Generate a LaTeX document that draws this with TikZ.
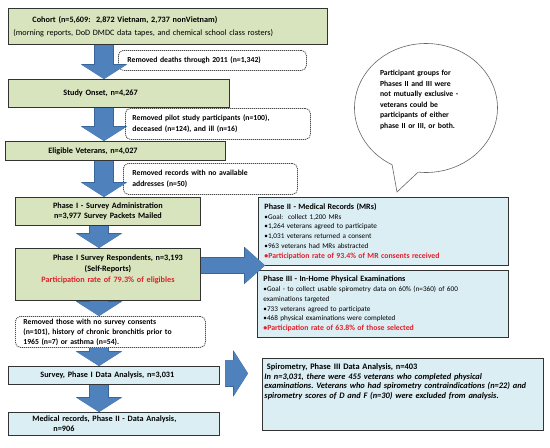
\documentclass[tikz,border=0pt]{standalone}
\usepackage{fontspec}
\setmainfont{Carlito}
\usepackage{xcolor}
\definecolor{colorStage}{HTML}{D7E4BD}
\definecolor{colorPhase}{HTML}{DBEEF4}
\definecolor{colorFlow}{HTML}{4F81BD}
\definecolor{colorFlowEdge}{HTML}{3A659A}
\definecolor{colorRate}{HTML}{E0202A}
\usetikzlibrary{arrows.meta, positioning, calc, shapes.callouts}
\tikzset{
  stagebox/.style={draw=black!80, line width=0.9pt, fill=colorStage, anchor=north west, align=left, inner ysep=1pt, font=\fontsize{8.2}{10}\selectfont\bfseries},
  phasebox/.style={stagebox, fill=colorPhase},
  omitbox/.style={draw=black!70, line width=0.8pt, dash pattern=on 1.2pt off 0.8pt, rounded corners=5pt, fill=white, anchor=north west, align=left, inner ysep=1pt, font=\fontsize{7.7}{10.5}\selectfont\bfseries},
  notebubble/.style={ellipse callout, draw=black!60, line width=0.6pt, fill=white, minimum width=143pt, minimum height=129pt, inner sep=0pt, callout pointer arc=22, text width=92pt, align=left, font=\fontsize{7.7}{10.5}\selectfont\bfseries},
  downflow/.style={colorFlow, line width=18pt, -{Triangle[width=44pt 0 0, length=14pt 0 0, line width=0pt 0 0]},
    preaction={draw=colorFlowEdge, line width=19.4pt, -{Triangle[width=46.4pt 0 0, length=14.8pt 0 0, line width=0pt 0 0]}}},
  sideflow/.style={colorFlow, line width=15pt, -{Triangle[width=35pt 0 0, length=20pt 0 0, line width=0pt 0 0]},
    preaction={draw=colorFlowEdge, line width=16.4pt, -{Triangle[width=37.4pt 0 0, length=20.8pt 0 0, line width=0pt 0 0]}}},
  wideflow/.style={colorFlow, line width=26pt, -{Triangle[width=44pt 0 0, length=14pt 0 0, line width=0pt 0 0]},
    preaction={draw=colorFlowEdge, line width=27.4pt, -{Triangle[width=46.4pt 0 0, length=14.8pt 0 0, line width=0pt 0 0]}}}
}
\newcommand{\rate}[1]{\textcolor{colorRate}{\bfseries #1}}
\newcommand{\titleline}[1]{{\fontsize{8.1}{9.7}\selectfont\bfseries #1}}
\newcommand{\rateline}[1]{{\fontsize{7.8}{9.7}\selectfont\rate{#1}}}

\begin{document}
\begin{tikzpicture}[x=1pt, y=-1pt]
\useasboundingbox (0,0) rectangle (550,448);
% main column
\node[stagebox, minimum width=319pt, minimum height=36pt, inner xsep=5pt, text width=309pt, font=\fontsize{8.2}{12.5}\selectfont] (cohort) at (8,8) {\hspace*{19pt}\textbf{Cohort (n=5,609:\ \ 2,872 Vietnam, 2,737 nonVietnam)}\\(morning reports, DoD DMDC data tapes, and chemical school class rosters)};
\node[omitbox, minimum width=188pt, minimum height=20pt, inner xsep=9pt, text width=170pt] (deaths) at (118,50) {Removed deaths through 2011 (n=1,342)};
\node[stagebox, minimum width=221pt, minimum height=28pt, inner xsep=55pt, text width=111pt] (onset) at (8,79) {Study Onset, n=4,267};
\node[omitbox, minimum width=185pt, minimum height=31pt, inner xsep=7pt, text width=171pt] (pilot) at (125,108) {Removed pilot study participants (n=100),\\deceased (n=124), and ill (n=16)};
\node[stagebox, minimum width=220pt, minimum height=19pt, inner xsep=43pt, text width=134pt] (eligible) at (5,141) {Eligible Veterans, n=4,027};
\node[omitbox, minimum width=174pt, minimum height=31pt, inner xsep=9pt, text width=156pt] (address) at (123,163) {Removed records with no available\\addresses (n=50)};
\node[stagebox, minimum width=185pt, minimum height=28pt, inner xsep=5pt, text width=168pt, align=center] (mailed) at (15,197) {Phase I - Survey Administration\\n=3,977 Survey Packets Mailed};
\node[stagebox, minimum width=185pt, minimum height=52pt, inner xsep=5pt, text width=170pt, align=center, font=\fontsize{8.2}{11}\selectfont\bfseries] (respond) at (15,248) {\hspace*{20pt}Phase I Survey Respondents, n=3,193\\(Self-Reports)\\\rate{Participation rate of 79.3\% of eligibles}\\[1pt]\mbox{}};
\node[omitbox, minimum width=188pt, minimum height=31pt, inner xsep=8pt, text width=174pt, font=\fontsize{7.7}{10}\selectfont\bfseries] (consent) at (15,316) {Removed those with no survey consents\\(n=101), history of chronic bronchitis prior to\\1965 (n=7) or asthma (n=54).};
\node[phasebox, minimum width=211pt, minimum height=18pt, inner xsep=32pt, text width=147pt] (survey) at (8,366) {Survey, Phase I Data Analysis, n=3,031};
\node[phasebox, minimum width=211pt, minimum height=23pt, inner xsep=24pt, text width=163pt] (medrec) at (8,412) {Medical records, Phase II - Data Analysis,\\\hspace*{21pt}n=906};
% phase boxes on the right
\node[phasebox, minimum width=250pt, minimum height=68pt, inner xsep=6pt, text width=238pt, font=\fontsize{7.2}{9.7}\selectfont] (records) at (258,197) {\titleline{Phase II - Medical Records (MRs)}\\\textbullet Goal:\ \ collect 1,200 MRs\\\textbullet 1,264 veterans agreed to participate\\\textbullet 1,031 veterans returned a consent\\\textbullet 963 veterans had MRs abstracted\\\rateline{\textbullet Participation rate of 93.4\% of MR consents received}};
\node[phasebox, minimum width=251pt, minimum height=67pt, inner xsep=6pt, text width=239pt, font=\fontsize{7.2}{9.7}\selectfont] (exams) at (257,270) {\titleline{Phase III - In-Home Physical Examinations}\\\textbullet Goal - to collect usable spirometry data on 60\% (n=360) of 600\\examinations targeted\\\textbullet 733 veterans agreed to participate\\\textbullet 468 physical examinations were completed\\\rateline{\textbullet Participation rate of 63.8\% of those selected}};
\node[phasebox, minimum width=281pt, minimum height=72pt, inner xsep=2pt, text width=277pt, font=\fontsize{8.4}{9.5}\selectfont] (spiro) at (262,358) {\hspace*{2.5pt}{\bfseries Spirometry, Phase III Data Analysis, n=403}\\{\bfseries\itshape\frenchspacing In n=3,031, there were 455 veterans who completed physical\\examinations. Veterans who had spirometry contraindications (n=22) and\\spirometry scores of D and F (n=30) were excluded from analysis.}\\[17pt]\mbox{}};
% callout
\coordinate (notetip) at (397,192);
\node[notebubble, callout absolute pointer={(notetip)}] (note) at (426,108) {Participant groups for\\Phases II and III were\\not mutually exclusive -\\veterans could be\\participants of either\\phase II or III, or both.\\[7pt]\mbox{}};
% block arrows
\coordinate (lane) at (104,0);
\coordinate (lowlane) at (99,0);
\draw[downflow] (cohort.south -| lane) -- (onset.north -| lane);
\draw[downflow] (onset.south -| lane) -- (eligible.north -| lane);
\draw[downflow] (eligible.south -| lane) -- (mailed.north -| lane);
\draw[downflow] (mailed.south -| lowlane) -- (respond.north -| lowlane);
\draw[downflow] (respond.south -| lowlane) -- (consent.north -| lowlane);
\draw[downflow] (consent.south -| lowlane) -- (survey.north -| lowlane);
\draw[downflow] (survey.south -| lowlane) -- (medrec.north -| lowlane);
\draw[sideflow] ($(respond.east)+(0,-9)$) -- ($(respond.east -| records.west)+(7,-9)$);
\draw[wideflow] ($(survey.east)+(5,-2)$) -- ($(survey.east -| spiro.west)+(-14,-2)$);
\end{tikzpicture}
\end{document}
